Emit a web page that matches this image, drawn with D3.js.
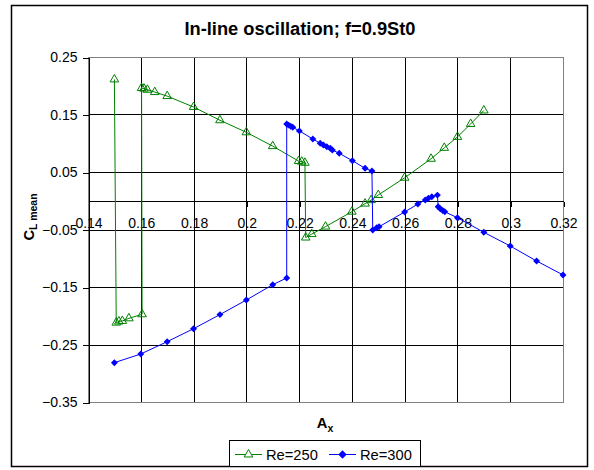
<!DOCTYPE html>
<html lang="en">
<head>
<meta charset="UTF-8">
<title>In-line oscillation</title>
<script src="https://d3js.org/d3.v7.min.js"></script>
<style>
  body { margin: 0; background: #fff; }
  svg text { font-family: "Liberation Sans", Arial, sans-serif; fill: #000; }
</style>
</head>
<body>
<div id="chart"></div>
<script>
// data
const re250X = [0.150, 0.1507, 0.1517, 0.153, 0.1555, 0.1605, 0.1603, 0.1612, 0.1625, 0.1653, 0.170, 0.180, 0.190, 0.200, 0.210, 0.2198, 0.2210, 0.2222, 0.2225, 0.2248, 0.230, 0.240, 0.245, 0.2473, 0.250, 0.260, 0.270, 0.275, 0.280, 0.285, 0.290];
const re250Y = [0.211, -0.212, -0.210, -0.209, -0.2045, -0.1975, 0.196, 0.195, 0.193, 0.189, 0.182, 0.163, 0.140, 0.119, 0.095, 0.069, 0.068, 0.066, -0.064, -0.058, -0.045, -0.019, -0.005, 0.001, 0.010, 0.040, 0.073, 0.092, 0.111, 0.1335, 0.157];

const re300X = [0.150, 0.160, 0.170, 0.180, 0.190, 0.200, 0.210, 0.2153, 0.2153, 0.2160, 0.2168, 0.2176, 0.2201, 0.2252, 0.228, 0.2292, 0.2305, 0.2318, 0.2326, 0.2352, 0.2402, 0.245, 0.2476, 0.2479, 0.2494, 0.2503, 0.260, 0.265, 0.2678, 0.269, 0.2703, 0.2724, 0.2727, 0.2735, 0.2744, 0.2752, 0.280, 0.290, 0.300, 0.310, 0.320];
const re300Y = [-0.2816, -0.2665, -0.2451, -0.2225, -0.198, -0.1726, -0.146, -0.1343, 0.1335, 0.1315, 0.1295, 0.1277, 0.1215, 0.1074, 0.100, 0.097, 0.094, 0.0912, 0.0883, 0.0825, 0.0697, 0.0564, 0.0517, -0.0509, -0.0469, -0.0452, -0.0195, -0.0057, 0.0013, 0.0043, 0.007, 0.0098, -0.0103, -0.014, -0.017, -0.0192, -0.0295, -0.0549, -0.0787, -0.1048, -0.129];

const xTicks = [0.14, 0.16, 0.18, 0.2, 0.22, 0.24, 0.26, 0.28, 0.3, 0.32];
const yTicks = [0.25, 0.15, 0.05, -0.05, -0.15, -0.25, -0.35];
const seriesNames = ["Re=250", "Re=300"];

const W = 594, H = 470;
const plot = {left: 88, right: 563, top: 57, bottom: 402};

const svg = d3.select("#chart").append("svg")
    .attr("width", W)
    .attr("height", H);

svg.append("rect")
    .attr("x", 0).attr("y", 0).attr("width", W).attr("height", H)
    .attr("fill", "#fff");

// outer chart frame
svg.append("rect")
    .attr("x", 11.5).attr("y", 5.5)
    .attr("width", 576).attr("height", 461)
    .attr("fill", "#fff")
    .attr("stroke", "#000")
    .attr("stroke-width", 1.5);

const x = d3.scaleLinear().domain([0.14, 0.32]).range([plot.left, plot.right]);
const y = d3.scaleLinear().domain([-0.35, 0.25]).range([plot.bottom, plot.top]);

// title
svg.append("text")
    .attr("x", 300).attr("y", 35)
    .attr("text-anchor", "middle")
    .style("font-size", "18.3px")
    .style("font-weight", "bold")
    .text("In-line oscillation; f=0.9St0");

// gridlines
const grid = svg.append("g").attr("shape-rendering", "crispEdges");
grid.selectAll(".hg").data(yTicks).enter().append("line")
    .attr("x1", plot.left).attr("x2", plot.right)
    .attr("y1", d => Math.round(y(d)) + 0.5).attr("y2", d => Math.round(y(d)) + 0.5)
    .attr("stroke", "#000");
grid.selectAll(".vg").data(xTicks).enter().append("line")
    .attr("x1", d => Math.round(x(d)) + 0.5).attr("x2", d => Math.round(x(d)) + 0.5)
    .attr("y1", plot.top).attr("y2", plot.bottom)
    .attr("stroke", "#000");

// plot area border
svg.append("rect")
    .attr("x", plot.left + 0.5).attr("y", plot.top + 0.5)
    .attr("width", plot.right - plot.left).attr("height", plot.bottom - plot.top)
    .attr("fill", "none")
    .attr("stroke", "#808080")
    .attr("shape-rendering", "crispEdges");

// y axis on the left
const yAxis = svg.append("g")
    .attr("transform", `translate(${plot.left + 0.5},0.5)`)
    .call(d3.axisLeft(y).tickValues(yTicks).tickSize(6).tickPadding(5)
        .tickFormat(d => d3.format("")(+d.toFixed(2))));
yAxis.select(".domain").attr("stroke", "#000");
yAxis.selectAll("line").attr("stroke", "#000");
yAxis.selectAll("text").style("font-size", "14px").attr("fill", "#000");
yAxis.attr("shape-rendering", "crispEdges");

// x axis crossing at y = 0
const xAxis = svg.append("g")
    .attr("transform", `translate(0.5,${Math.round(y(0)) + 0.5})`)
    .call(d3.axisBottom(x).tickValues(xTicks).tickSize(5).tickPadding(12)
        .tickFormat(d => d3.format("")(+d.toFixed(2))));
xAxis.select(".domain").attr("stroke", "#000").attr("d", `M${plot.left},0H${plot.right}`);
xAxis.selectAll("line").attr("stroke", "#000");
xAxis.selectAll("text").style("font-size", "14px").attr("fill", "#000");
xAxis.attr("shape-rendering", "crispEdges");

// axis titles
const yt = svg.append("text")
    .attr("transform", "translate(34,217) rotate(-90)")
    .attr("text-anchor", "middle")
    .style("font-weight", "bold")
    .style("font-size", "14.7px");
yt.append("tspan").text("C");
yt.append("tspan").attr("dy", 3).style("font-size", "10.5px").text("L mean");

const xt = svg.append("text")
    .attr("x", 325).attr("y", 428)
    .attr("text-anchor", "middle")
    .style("font-weight", "bold")
    .style("font-size", "14.7px");
xt.append("tspan").text("A");
xt.append("tspan").attr("dy", 4).style("font-size", "10.5px").text("x");

// series
const green = "#008000", blue = "#0000ff";
const re250 = re250X.map((v, i) => [v, re250Y[i]]);
const re300 = re300X.map((v, i) => [v, re300Y[i]]);
const line = d3.line().x(d => x(d[0])).y(d => y(d[1]));

const tri = d3.symbol().type(d3.symbolTriangle).size(32);
const dia = d3.symbol().type(d3.symbolSquare).size(24);

svg.append("path").datum(re250)
    .attr("d", line).attr("fill", "none").attr("stroke", green).attr("stroke-width", 1);
svg.append("g").selectAll("path").data(re250).enter().append("path")
    .attr("d", tri)
    .attr("transform", d => `translate(${x(d[0])},${y(d[1])})`)
    .attr("fill", "#fff").attr("fill-opacity", 0)
    .attr("stroke", green).attr("stroke-width", 1);

svg.append("path").datum(re300)
    .attr("d", line).attr("fill", "none").attr("stroke", blue).attr("stroke-width", 1);
svg.append("g").selectAll("path").data(re300).enter().append("path")
    .attr("d", dia)
    .attr("transform", d => `translate(${x(d[0])},${y(d[1])}) rotate(45)`)
    .attr("fill", blue);

// legend
const leg = svg.append("g");
leg.append("rect")
    .attr("x", 229.5).attr("y", 440.5).attr("width", 191).attr("height", 26)
    .attr("fill", "#fff").attr("stroke", "#000");
const items = [
    {name: seriesNames[0], color: green, sym: tri, x0: 235, rot: 0, fill: "none"},
    {name: seriesNames[1], color: blue, sym: dia, x0: 329, rot: 45, fill: blue}
];
items.forEach(it => {
    leg.append("line")
        .attr("x1", it.x0).attr("x2", it.x0 + 27)
        .attr("y1", 454.5).attr("y2", 454.5)
        .attr("stroke", it.color);
    leg.append("path")
        .attr("d", it.sym)
        .attr("transform", `translate(${it.x0 + 13.5},454.5) rotate(${it.rot})`)
        .attr("fill", it.fill === "none" ? "#fff" : it.fill)
        .attr("stroke", it.color);
    leg.append("text")
        .attr("x", it.x0 + 31).attr("y", 459.5)
        .style("font-size", "14.7px")
        .text(it.name);
});
</script>
</body>
</html>
